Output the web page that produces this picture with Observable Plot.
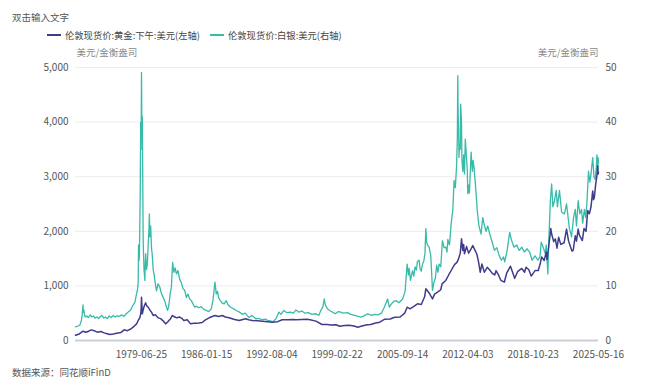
<!DOCTYPE html>
<html>
<head>
<meta charset="utf-8">
<script src="https://cdn.jsdelivr.net/npm/d3@7"></script>
<script src="https://cdn.jsdelivr.net/npm/@observablehq/plot@0.6"></script>
<style>
  html, body { margin: 0; padding: 0; background: #fff; }
  body { width: 660px; height: 391px; position: relative; overflow: hidden;
         font-family: "Noto Sans CJK SC", "Noto Sans", sans-serif; }
  #title { position: absolute; left: 12px; top: 11px; font-size: 9.5px; line-height: 12px; color: #555; }
  .leg { position: absolute; top: 29px; font-size: 9.3px; line-height: 12px; color: #444; display: flex; align-items: center; white-space: nowrap; }
  .sw { display: inline-block; width: 14px; height: 2px; margin-right: 4px; }
  #chart { position: absolute; left: 0; top: 40px; }
  #source { position: absolute; left: 12px; top: 366px; font-size: 9.5px; line-height: 12px; color: #555; }
</style>
</head>
<body>
<div id="title">双击输入文字</div>
<div class="leg" style="left:47px"><span class="sw" style="background:#403c8c"></span>伦敦现货价:黄金:下午:美元(左轴)</div>
<div class="leg" style="left:210px"><span class="sw" style="background:#38bba8"></span>伦敦现货价:白银:美元(右轴)</div>
<div id="chart"></div>
<div id="source">数据来源：同花顺iFinD</div>
<script>
// ---- data ----
const unitLabel = "美元/金衡盎司";
const xStart = "1972-11-14";
const xEnd = "2025-05-16";
const xTickLabels = ["1979-06-25","1986-01-15","1992-08-04","1999-02-22","2005-09-14","2012-04-03","2018-10-23","2025-05-16"];
const leftTicks = [0, 1000, 2000, 3000, 4000, 5000];
const rightTicks = [0, 10, 20, 30, 40, 50];

// gold, USD/oz (left axis)
const goldSeries = [
["1972-11-14",95],["1973-04-01",120],["1973-08-15",170],["1973-12-01",150],["1974-04-01",175],["1974-06-15",195],
["1974-10-01",180],["1975-01-15",152],["1975-06-01",165],["1975-10-01",140],["1976-01-15",125],["1976-05-01",110],
["1976-09-01",120],["1977-01-01",134],["1977-06-01",145],["1977-10-01",195],["1978-02-01",180],["1978-06-01",210],
["1978-10-01",260],["1979-01-01",305],["1979-03-15",380],["1979-05-01",420],["1979-06-01",480],["1979-06-20",600],
["1979-07-01",790],["1979-07-15",640],["1979-08-01",488],["1979-09-01",560],["1979-10-15",640],["1979-12-01",690],
["1980-01-01",641],["1980-03-01",610],["1980-05-01",560],["1980-07-01",520],["1980-09-01",458],["1980-11-15",470],
["1981-03-01",415],["1981-06-01",400],["1981-09-01",360],["1981-12-01",305],["1982-02-15",340],["1982-04-01",366],
["1982-06-01",400],["1982-08-01",458],["1982-11-01",430],["1983-01-15",415],["1983-05-01",430],["1983-08-01",400],
["1983-10-01",366],["1984-02-01",380],["1984-06-01",305],["1984-10-01",315],["1985-01-01",317],["1985-04-01",320],
["1985-08-01",330],["1985-12-01",379],["1986-05-01",420],["1986-11-15",458],["1987-04-01",440],["1987-08-15",458],
["1987-12-01",430],["1988-04-15",415],["1988-10-01",390],["1989-04-15",366],["1989-12-15",397],["1990-04-01",380],
["1990-08-15",366],["1991-03-01",360],["1991-08-15",354],["1992-03-01",345],["1992-08-15",335],["1993-03-01",345],
["1993-08-15",379],["1994-03-01",380],["1994-09-01",385],["1995-01-01",379],["1995-08-01",384],["1996-02-01",390],
["1996-06-01",380],["1997-01-01",355],["1997-08-15",293],["1998-03-01",295],["1998-07-01",285],["1999-01-01",288],
["1999-06-01",260],["1999-11-15",275],["2000-05-01",280],["2000-11-01",265],["2001-03-15",244],["2001-09-15",270],
["2002-03-01",290],["2002-07-01",293],["2003-01-01",320],["2003-06-01",335],["2003-12-01",390],["2004-06-15",395],
["2004-12-01",427],["2005-06-15",430],["2005-12-01",500],["2006-03-01",610],["2006-06-15",580],["2006-11-01",625],
["2007-03-15",672],["2007-08-01",660],["2007-12-01",800],["2008-01-15",947],["2008-05-01",880],["2008-09-15",763],
["2008-12-01",850],["2009-04-01",890],["2009-07-15",930],["2009-09-01",1038],["2010-01-15",1100],["2010-05-01",1200],
["2010-08-01",1282],["2010-12-01",1390],["2011-03-01",1430],["2011-05-01",1500],["2011-07-01",1600],["2011-08-15",1862],
["2011-09-15",1720],["2011-10-01",1650],["2011-11-01",1760],["2011-12-01",1588],["2012-02-15",1720],["2012-05-01",1600],
["2012-08-01",1679],["2012-10-01",1740],["2012-12-15",1660],["2013-03-01",1580],["2013-05-01",1440],["2013-07-01",1250],
["2013-09-01",1400],["2013-12-01",1250],["2014-03-15",1340],["2014-06-15",1290],["2014-09-15",1230],["2014-12-15",1200],
["2015-02-01",1280],["2015-05-01",1200],["2015-08-01",1100],["2015-12-01",1068],["2016-03-01",1240],["2016-07-15",1360],
["2016-12-15",1140],["2017-04-01",1260],["2017-09-01",1320],["2017-12-15",1250],["2018-02-01",1340],["2018-05-15",1300],
["2018-08-15",1180],["2019-01-01",1280],["2019-05-01",1280],["2019-07-15",1420],["2019-09-01",1530],["2019-12-01",1465],
["2020-02-15",1620],["2020-03-15",1480],["2020-05-15",1720],["2020-08-01",2050],["2020-09-01",1950],["2020-11-15",1810],
["2021-01-15",1860],["2021-03-15",1690],["2021-05-15",1890],["2021-08-01",1760],["2021-12-01",1790],["2022-03-01",2040],
["2022-05-15",1820],["2022-09-15",1640],["2022-11-01",1650],["2023-01-15",1920],["2023-03-01",1820],["2023-05-01",2040],
["2023-06-15",1930],["2023-10-01",1830],["2023-12-01",2050],["2024-02-15",2000],["2024-04-15",2380],["2024-06-15",2320],
["2024-08-15",2450],["2024-10-15",2740],["2024-11-15",2580],["2024-12-15",2620],["2025-02-01",2860],["2025-03-15",3000],
["2025-04-20",3200],["2025-05-01",3050],["2025-05-16",3080]
];

// silver, USD/oz (right axis)
const silverSeries = [
["1972-11-14",2.5],["1973-01-15",2.6],["1973-03-15",2.7],["1973-05-01",2.9],["1973-06-15",3.6],["1973-07-15",4.6],
["1973-08-15",6.5],["1973-09-01",5.2],["1973-09-15",5.6],["1973-10-15",4.6],["1973-11-15",4.3],["1974-01-01",4.5],
["1974-03-01",4.2],["1974-05-15",4.7],["1974-07-01",4.3],["1974-09-01",4.5],["1974-11-01",4.1],["1975-01-15",4.3],
["1975-03-15",4.0],["1975-05-15",4.4],["1975-07-15",4.6],["1975-09-15",4.1],["1975-11-15",4.3],["1976-02-01",4.0],
["1976-04-01",4.5],["1976-06-15",4.2],["1976-09-01",4.6],["1976-11-01",4.3],["1977-01-15",4.5],["1977-04-01",4.4],
["1977-07-01",4.7],["1977-10-01",4.4],["1977-12-15",4.9],["1978-03-01",5.2],["1978-06-01",5.6],["1978-08-15",6.4],
["1978-11-01",7.0],["1979-01-01",8.6],["1979-02-01",9.2],["1979-03-01",10.5],["1979-03-15",17.5],["1979-04-01",14.6],
["1979-04-15",15.5],["1979-05-15",27.0],["1979-06-01",40.0],["1979-06-15",35.0],["1979-07-01",49.1],["1979-07-15",39.0],
["1979-08-01",41.0],["1979-08-15",30.0],["1979-09-01",18.0],["1979-10-01",13.0],["1979-11-01",11.0],["1979-11-15",14.0],
["1979-12-01",15.9],["1980-01-01",13.0],["1980-02-01",14.0],["1980-03-01",17.5],["1980-04-01",20.5],["1980-04-15",23.2],
["1980-05-01",19.0],["1980-06-01",21.0],["1980-07-01",17.0],["1980-08-01",15.5],["1980-09-01",13.0],["1980-10-01",12.2],
["1980-11-01",11.0],["1981-01-01",9.1],["1981-03-01",10.4],["1981-05-01",9.8],["1981-07-01",8.6],["1981-09-01",7.9],
["1981-11-01",7.2],["1982-01-01",6.1],["1982-02-15",5.5],["1982-04-01",6.5],["1982-05-15",8.5],["1982-07-01",9.8],
["1982-08-15",14.3],["1982-10-01",12.5],["1982-11-15",13.3],["1983-01-01",12.2],["1983-03-01",12.8],["1983-05-01",11.2],
["1983-07-01",10.6],["1983-09-01",9.5],["1983-11-01",9.2],["1984-01-01",7.9],["1984-03-01",8.5],["1984-05-01",7.6],
["1984-07-01",7.3],["1984-09-01",6.7],["1984-11-01",6.1],["1985-01-01",6.3],["1985-04-01",6.0],["1985-07-01",6.2],
["1985-10-01",5.7],["1986-01-01",5.5],["1986-04-01",5.3],["1986-07-01",5.8],["1986-09-01",7.3],["1986-11-15",10.7],
["1987-01-01",8.5],["1987-02-15",9.0],["1987-04-01",7.8],["1987-06-01",7.3],["1987-08-01",6.9],["1987-10-15",6.7],
["1988-01-01",7.3],["1988-03-01",6.6],["1988-06-15",6.1],["1988-10-01",5.8],["1989-01-01",5.5],["1989-05-01",5.2],
["1989-08-15",4.8],["1989-12-01",5.0],["1990-04-15",4.2],["1990-08-01",4.6],["1990-12-15",4.0],["1991-05-01",4.0],
["1991-08-15",3.8],["1991-12-01",3.9],["1992-03-01",3.7],["1992-06-15",3.6],["1992-08-15",3.4],["1992-11-01",3.7],
["1993-01-01",4.0],["1993-04-15",5.2],["1993-07-01",4.8],["1993-10-15",5.5],["1994-02-01",5.1],["1994-06-15",5.2],
["1994-10-01",5.0],["1995-01-01",5.6],["1995-04-15",5.2],["1995-08-01",5.4],["1995-12-01",5.0],["1996-04-01",5.1],
["1996-08-01",4.8],["1997-01-01",4.9],["1997-04-15",4.6],["1997-07-01",5.5],["1997-09-15",6.2],["1997-11-01",7.6],
["1997-12-15",6.5],["1998-03-01",5.8],["1998-06-15",5.4],["1998-09-01",5.2],["1998-12-15",4.9],["1999-04-01",5.3],
["1999-07-01",5.2],["1999-10-01",5.0],["2000-03-01",5.1],["2000-07-01",4.8],["2000-12-01",4.6],["2001-04-01",4.4],
["2001-07-01",4.3],["2001-11-01",4.5],["2002-03-15",4.9],["2002-08-01",4.6],["2002-12-01",4.8],["2003-03-15",4.7],
["2003-08-01",5.0],["2003-11-15",6.1],["2004-03-15",7.6],["2004-05-15",6.1],["2004-08-01",6.7],["2004-11-01",7.2],
["2005-01-15",7.3],["2005-05-01",6.9],["2005-09-15",7.6],["2005-12-15",9.0],["2006-03-01",14.0],["2006-04-15",12.0],
["2006-05-15",13.2],["2006-07-01",11.0],["2006-09-15",12.8],["2006-11-01",11.8],["2006-12-15",13.5],["2007-02-01",12.9],
["2007-03-15",14.5],["2007-05-15",14.7],["2007-06-15",13.2],["2007-08-01",12.7],["2007-09-15",14.0],["2007-11-01",14.5],
["2007-12-15",16.0],["2008-01-15",20.5],["2008-02-15",18.0],["2008-03-15",17.5],["2008-05-15",17.1],["2008-07-15",15.5],
["2008-09-15",9.2],["2008-11-01",10.5],["2009-01-01",11.5],["2009-02-15",13.8],["2009-04-01",12.5],["2009-05-15",14.0],
["2009-07-15",13.5],["2009-09-15",18.3],["2009-11-15",17.0],["2010-01-15",17.1],["2010-03-01",16.2],["2010-04-01",18.5],
["2010-06-01",17.5],["2010-08-01",21.4],["2010-10-01",24.0],["2010-11-15",29.3],["2011-01-01",28.0],["2011-02-15",32.0],
["2011-03-15",37.0],["2011-04-01",48.5],["2011-04-15",41.0],["2011-05-01",39.0],["2011-05-15",33.5],["2011-06-01",36.0],
["2011-07-01",35.0],["2011-07-15",43.3],["2011-08-15",40.0],["2011-09-01",33.0],["2011-10-01",31.0],["2011-11-01",34.0],
["2011-12-01",30.5],["2012-01-01",36.9],["2012-02-15",33.5],["2012-03-15",31.0],["2012-04-01",26.9],["2012-05-15",28.5],
["2012-06-01",27.0],["2012-08-01",34.5],["2012-09-15",31.0],["2012-10-15",33.0],["2012-11-15",31.7],["2013-01-15",28.0],
["2013-03-15",23.8],["2013-05-15",21.0],["2013-08-01",19.5],["2013-10-01",22.5],["2013-12-01",21.1],["2014-02-01",20.0],
["2014-04-01",21.0],["2014-06-15",19.5],["2014-09-15",18.0],["2014-12-01",16.5],["2015-03-01",17.0],["2015-06-01",15.5],
["2015-08-15",14.7],["2015-11-01",15.3],["2015-12-15",14.4],["2016-03-15",16.5],["2016-06-15",19.8],["2016-08-15",18.5],
["2016-11-15",17.1],["2017-03-01",17.5],["2017-06-01",16.5],["2017-09-01",17.1],["2017-12-01",16.2],["2018-03-15",16.8],
["2018-06-15",16.2],["2018-09-15",14.7],["2019-01-01",15.5],["2019-04-15",14.7],["2019-07-01",15.3],["2019-08-15",18.0],
["2019-11-01",17.0],["2020-01-15",15.9],["2020-02-15",17.5],["2020-04-15",12.2],["2020-05-15",17.5],["2020-07-15",25.6],
["2020-09-01",28.7],["2020-10-15",24.5],["2020-12-15",25.6],["2021-02-15",27.5],["2021-04-01",24.5],["2021-06-15",27.5],
["2021-09-01",23.5],["2021-12-15",23.2],["2022-03-01",25.0],["2022-06-15",20.5],["2022-09-01",19.0],["2022-11-15",22.6],
["2023-01-15",24.0],["2023-03-01",21.0],["2023-05-01",25.6],["2023-07-01",23.2],["2023-09-01",24.0],["2023-10-15",21.5],
["2023-12-15",24.0],["2024-02-01",22.5],["2024-03-15",25.0],["2024-05-15",31.0],["2024-07-01",29.0],["2024-08-15",30.5],
["2024-10-15",33.5],["2024-12-01",30.0],["2025-01-15",29.5],["2025-03-01",32.0],["2025-03-20",34.0],["2025-04-10",30.5],
["2025-05-01",33.5],["2025-05-16",32.5]
];

// ---- build ----
const parse = d3.utcParse("%Y-%m-%d");
const gold = goldSeries.map(([d, v]) => ({date: parse(d), value: v}));
const silver = silverSeries.map(([d, v]) => ({date: parse(d), value: v}));
const ratio = leftTicks[leftTicks.length - 1] / rightTicks[rightTicks.length - 1]; // right axis mapped onto left scale

const goldColor = "#403c8c";
const silverColor = "#38bba8";
const font = '"Noto Sans CJK SC", "Noto Sans", sans-serif';

const chart = Plot.plot({
  width: 660,
  height: 320,
  marginLeft: 75,
  marginRight: 62,
  marginTop: 27,
  marginBottom: 20,
  style: {fontFamily: font, fontSize: "10px", color: "#555", background: "transparent", overflow: "visible"},
  x: {type: "utc", domain: [parse(xStart), parse(xEnd)]},
  y: {domain: [leftTicks[0], leftTicks[leftTicks.length - 1]]},
  marks: [
    Plot.gridY(leftTicks.slice(1), {stroke: "#ececec", strokeOpacity: 1}),
    Plot.axisY(leftTicks, {anchor: "left", tickSize: 0, tickPadding: 7, tickFormat: d3.format(","), label: null, fill: "#555"}),
    Plot.axisY(rightTicks.map(v => v * ratio), {anchor: "right", tickSize: 0, tickPadding: 7, tickFormat: d => String(d / ratio), label: null, fill: "#555"}),
    Plot.axisX(xTickLabels.map(parse), {anchor: "bottom", tickSize: 0, tickPadding: 10, tickFormat: d3.utcFormat("%Y-%m-%d"), label: null, fill: "#555"}),
    Plot.lineY(silver, {x: "date", y: d => d.value * ratio, stroke: silverColor, strokeWidth: 1.3, curve: "linear"}),
    Plot.lineY(gold, {x: "date", y: "value", stroke: goldColor, strokeWidth: 1.5, curve: "linear"}),
    Plot.ruleY([0], {stroke: "#cdcfd8", strokeWidth: 2}),
    Plot.text([unitLabel], {frameAnchor: "top-left", text: d => d, dy: -18, dx: 1, textAnchor: "start", fill: "#888", fontSize: 9.5}),
    Plot.text([unitLabel], {frameAnchor: "top-right", text: d => d, dy: -18, textAnchor: "end", fill: "#888", fontSize: 9.5})
  ]
});
document.getElementById("chart").appendChild(chart);
</script>
</body>
</html>
